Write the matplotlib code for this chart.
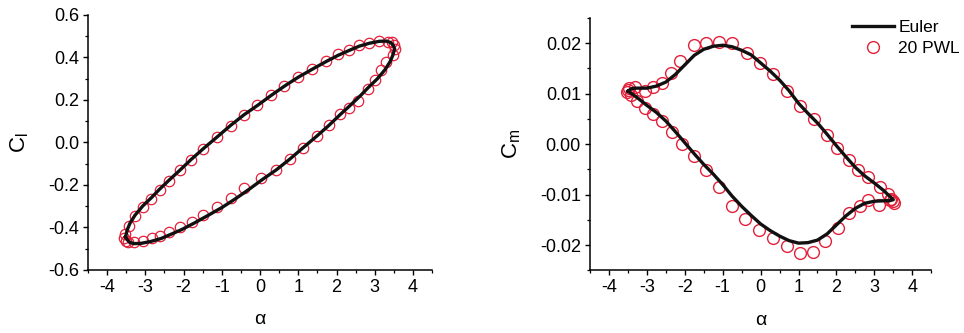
import matplotlib
matplotlib.use("Agg")
import matplotlib.pyplot as plt
from matplotlib.ticker import MultipleLocator

plt.rcParams['font.family'] = ['Liberation Sans', 'DejaVu Sans']
plt.rcParams['mathtext.default'] = 'regular'
plt.rcParams['axes.unicode_minus'] = False

# ---- lift coefficient loop (Euler solution) ----
alpha_cl_euler = [-3.52, -3.47, -3.40, -3.27, -3.07, -2.85, -2.63, -2.38, -2.09, -1.80,
                  -1.48, -1.12, -0.77, -0.42, -0.06, 0.28, 0.63, 0.99, 1.37, 1.72,
                  2.04, 2.33, 2.59, 2.86, 3.12, 3.30, 3.42, 3.49, 3.52,
                  3.47, 3.40, 3.27, 3.07, 2.85, 2.63, 2.38, 2.09, 1.80, 1.48,
                  1.12, 0.77, 0.42, 0.06, -0.28, -0.63, -0.99, -1.37, -1.72, -2.04,
                  -2.33, -2.59, -2.86, -3.12, -3.30, -3.42, -3.49, -3.52]
cl_euler = [-0.445, -0.410, -0.380, -0.343, -0.300, -0.262, -0.221, -0.178, -0.130, -0.080,
            -0.029, 0.026, 0.080, 0.130, 0.175, 0.220, 0.264, 0.306, 0.345, 0.380,
            0.410, 0.433, 0.453, 0.467, 0.476, 0.477, 0.470, 0.455, 0.440,
            0.410, 0.380, 0.343, 0.300, 0.262, 0.221, 0.178, 0.130, 0.080, 0.029,
            -0.026, -0.080, -0.130, -0.175, -0.220, -0.264, -0.306, -0.345, -0.380, -0.410,
            -0.433, -0.453, -0.467, -0.476, -0.477, -0.470, -0.455, -0.445]

# ---- lift coefficient, 20 PWL model ----
alpha_cl_pwl = [-3.55, -3.52, -3.50, -3.44, -3.27, -3.07, -2.85, -2.63, -2.38, -2.09,
                -1.80, -1.48, -1.12, -0.77, -0.42, -0.07, 0.28, 0.63, 0.99, 1.37,
                1.72, 2.04, 2.33, 2.59, 2.86, 3.12, 3.34, 3.45, 3.50, 3.53,
                3.47, 3.29, 3.16, 3.00, 2.81, 2.55, 2.32, 2.09, 1.80, 1.48,
                1.12, 0.77, 0.42, 0.03, -0.42, -0.77, -1.12, -1.48, -1.78, -2.09,
                -2.37, -2.61, -2.83, -3.05, -3.31, -3.45]
cl_pwl = [-0.450, -0.430, -0.465, -0.394, -0.346, -0.305, -0.266, -0.223, -0.181, -0.132,
          -0.082, -0.031, 0.025, 0.079, 0.128, 0.178, 0.221, 0.265, 0.309, 0.347,
          0.383, 0.414, 0.435, 0.457, 0.470, 0.477, 0.472, 0.475, 0.460, 0.440,
          0.410, 0.378, 0.343, 0.296, 0.249, 0.194, 0.160, 0.132, 0.082, 0.031,
          -0.025, -0.079, -0.128, -0.170, -0.215, -0.263, -0.305, -0.342, -0.373, -0.400,
          -0.420, -0.441, -0.452, -0.463, -0.468, -0.470]

# ---- moment coefficient loop (Euler solution) ----
alpha_cm_euler = [-3.50, -3.40, -3.30, -3.00, -2.75, -2.50, -2.25, -2.00, -1.75, -1.50,
                  -1.25, -1.00, -0.75, -0.50, -0.25, 0.00, 0.25, 0.50, 0.75, 1.00,
                  1.25, 1.50, 1.75, 2.00, 2.25, 2.50, 2.75, 3.00, 3.25, 3.40, 3.50,
                  3.40, 3.30, 3.00, 2.75, 2.50, 2.25, 2.00, 1.75, 1.50, 1.25,
                  1.00, 0.75, 0.50, 0.25, 0.00, -0.25, -0.50, -0.75, -1.00, -1.25,
                  -1.50, -1.75, -2.00, -2.25, -2.50, -2.75, -3.00, -3.25, -3.40, -3.50]
cm_euler = [0.0105, 0.0110, 0.0111, 0.0111, 0.0115, 0.0123, 0.0138, 0.0157, 0.0176, 0.0188,
            0.0194, 0.0196, 0.0193, 0.0186, 0.0177, 0.0161, 0.0145, 0.0127, 0.0106, 0.0081,
            0.0061, 0.0042, 0.0020, -0.0003, -0.0025, -0.0046, -0.0063, -0.0077, -0.0092, -0.0103, -0.0110,
            -0.0112, -0.0112, -0.0113, -0.0117, -0.0127, -0.0142, -0.0160, -0.0178, -0.0190, -0.0195,
            -0.0196, -0.0191, -0.0182, -0.0171, -0.0158, -0.0141, -0.0123, -0.0103, -0.0080, -0.0059,
            -0.0040, -0.0019, 0.0003, 0.0025, 0.0046, 0.0063, 0.0077, 0.0092, 0.0100, 0.0105]

# ---- moment coefficient, 20 PWL model ----
alpha_cm_pwl = [-3.53, -3.50, -3.46, -3.30, -3.04, -2.83, -2.61, -2.36, -2.12, -1.75,
                -1.45, -1.10, -0.76, -0.36, -0.02, 0.34, 0.70, 1.04, 1.41, 1.75,
                2.01, 2.32, 2.56, 2.82, 3.15, 3.35, 3.45, 3.50, 3.53,
                3.40, 3.11, 2.84, 2.61, 2.32, 2.03, 1.70, 1.38, 1.04, 0.69,
                0.34, -0.03, -0.41, -0.76, -1.11, -1.44, -1.75, -2.08, -2.34, -2.61,
                -2.83, -3.05, -3.27, -3.42]
cm_pwl = [0.0103, 0.0108, 0.0112, 0.0113, 0.0106, 0.0113, 0.0121, 0.0142, 0.0164, 0.0197,
          0.0201, 0.0203, 0.0200, 0.0180, 0.0161, 0.0139, 0.0106, 0.0075, 0.0050, 0.0019,
          -0.0008, -0.0032, -0.0051, -0.0065, -0.0085, -0.0098, -0.0108, -0.0112, -0.0116,
          -0.0110, -0.0120, -0.0111, -0.0122, -0.0136, -0.0166, -0.0192, -0.0214, -0.0215, -0.0202,
          -0.0185, -0.0169, -0.0148, -0.0123, -0.0085, -0.0052, -0.0024, 0.0001, 0.0025, 0.0045,
          0.0060, 0.0072, 0.0085, 0.0098]

red = '#e3203a'

fig = plt.figure(figsize=(9.64, 3.33), dpi=100)
ax1 = fig.add_axes([0.0913, 0.190, 0.357, 0.765])
ax2 = fig.add_axes([0.612, 0.188, 0.354, 0.758])


def style_axes(ax):
    for side in ['top', 'right']:
        ax.spines[side].set_visible(False)
    for side in ['left', 'bottom']:
        ax.spines[side].set_linewidth(1.1)
    ax.tick_params(which='major', direction='out', length=3.5, width=1.0, labelsize=13,
                   pad=3)
    ax.tick_params(which='minor', direction='out', length=2, width=0.9)
    ax.set_xlim(-4.5, 4.5)
    ax.xaxis.set_major_locator(MultipleLocator(1))
    ax.xaxis.set_minor_locator(MultipleLocator(0.5))
    ax.set_xlabel('α', fontsize=14, labelpad=11)


# Cl vs alpha
ax1.plot(alpha_cl_euler, cl_euler, color='#111111', lw=2.4, zorder=3, label='Euler')
ax1.plot(alpha_cl_pwl, cl_pwl, 'o', ms=7.5, mfc='none', mec=red, mew=0.9, zorder=2,
         label='20 PWL')
style_axes(ax1)
ax1.set_ylim(-0.6, 0.6)
ax1.yaxis.set_major_locator(MultipleLocator(0.2))
ax1.yaxis.set_minor_locator(MultipleLocator(0.1))
ax1.yaxis.set_major_formatter(lambda v, p: f'{v:.1f}')
ax1.set_ylabel('C$_l$', fontsize=16, labelpad=12)

# Cm vs alpha
ax2.plot(alpha_cm_euler, cm_euler, color='#111111', lw=2.4, zorder=3, label='Euler')
ax2.plot(alpha_cm_pwl, cm_pwl, 'o', ms=8.5, mfc='none', mec=red, mew=1.0, zorder=2,
         label='20 PWL')
style_axes(ax2)
ax2.set_ylim(-0.025, 0.025)
ax2.yaxis.set_major_locator(MultipleLocator(0.01))
ax2.yaxis.set_minor_locator(MultipleLocator(0.005))
ax2.yaxis.set_major_formatter(lambda v, p: f'{v:.2f}')
ax2.set_ylabel('C$_m$', fontsize=16, labelpad=12)

ax2.legend(loc='upper right', bbox_to_anchor=(1.105, 1.02), frameon=False, fontsize=12.5,
           handlelength=2.4, handletextpad=0.25, labelspacing=0.35, borderaxespad=0)

fig.savefig('out.png', dpi=100)
